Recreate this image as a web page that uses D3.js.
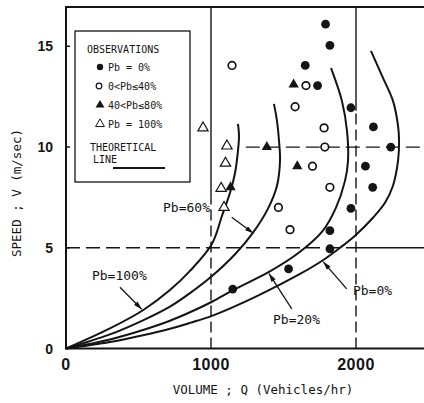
<!DOCTYPE html>
<html>
<head>
<meta charset="utf-8">
<script src="https://cdn.jsdelivr.net/npm/d3@7"></script>
<style>
  body { margin: 0; background: #fff; }
  svg { display: block; background: #fff; }
  .mono { font-family: "DejaVu Sans Mono", monospace; fill: #141414; }
  .tick-label { font-family: "Liberation Sans", Arial, sans-serif; font-weight: bold; fill: #141414; }
</style>
</head>
<body>
<svg id="chart" width="424" height="403"></svg>
<script>
(function(d3) {

  // Observations [Q (veh/hr), V (m/sec)]
  var obsPb0 = [[1790,16.1],[1820,15.05],[1650,14.05],[1735,13.05],[1965,11.95],[2120,11.0],
                [2240,10.0],[2065,9.05],[2115,8.0],[1965,6.95],[1820,5.85],[1820,4.95],
                [1535,3.95],[1150,2.95]];
  var obsPb0to40 = [[1145,14.05],[1655,13.05],[1580,12.0],[1780,10.95],[1785,10.0],[1700,9.05],
                    [1820,8.0],[1465,7.0],[1545,5.9]];
  var obsPb40to80 = [[1570,13.1],[1385,10.0],[1595,9.05],[1135,8.0]];
  var obsPb100 = [[945,10.95],[1110,10.05],[1100,9.2],[1070,7.95],[1090,7.0]];

  // Theoretical lines
  var linePb0 = [[0,0],[303,0.32],[531,0.66],[717,0.98],[855,1.27],[1007,1.62],[1317,2.6],
                 [1614,3.7],[1772,4.38],[1890,5.0],[1993,5.6],[2117,6.49],[2200,7.23],
                 [2255,8.08],[2290,9.32],[2297,10.31],[2290,11.05],[2255,12.29],[2186,13.43],
                 [2103,14.77]];
  var linePb20 = [[0,0],[303,0.45],[531,0.92],[717,1.38],[855,1.8],[1007,2.32],[1152,2.9],
                  [1400,3.8],[1614,4.8],[1772,5.85],[1862,6.99],[1924,8.32],[1945,9.32],
                  [1938,10.8],[1903,12.29],[1828,13.92]];
  var linePb60 = [[0,0],[303,0.7],[531,1.4],[717,2.08],[855,2.75],[1007,3.6],[1166,4.68],
                  [1290,5.75],[1393,6.94],[1455,8.08],[1476,9.32],[1469,10.31],[1455,11.3],
                  [1434,12.14]];
  var linePb100 = [[0,0],[303,1.0],[531,1.9],[717,2.9],[855,3.85],[1007,5.2],[1076,6.59],
                   [1131,7.73],[1166,8.72],[1186,9.81],[1193,10.55],[1186,11.15]];

  var xTicks = [0, 1000, 2000];
  var yTicks = [0, 5, 10, 15];

  var svg = d3.select("#chart");

  var x = d3.scaleLinear()
    .domain([0, 2500])
    .range([66, 428.5]);

  var y = d3.scaleLinear()
    .domain([0, 16.95])
    .range([348.5, 7]);

  var ink = "#141414";

  // Arrow head for the line labels
  svg.append("defs").append("marker")
    .attr("id", "arrow")
    .attr("viewBox", "0 0 10 6")
    .attr("refX", 10)
    .attr("refY", 3)
    .attr("markerWidth", 9)
    .attr("markerHeight", 5)
    .attr("markerUnits", "userSpaceOnUse")
    .attr("orient", "auto")
    .append("path")
    .attr("d", "M0,0L10,3L0,6Z")
    .attr("fill", ink);

  //** Grid lines **//

  // [value, from, to, dashed]
  var vGrid = [[1000, 0, 7.5, true], [1000, 7.5, 16.95, false],
               [2000, 0, 11.8, true], [2000, 11.8, 16.95, false]];
  var hGrid = [[5, 0, 2000, true], [5, 2000, 2500, false],
               [10, 1240, 2500, true]];

  svg.selectAll(".vgrid")
    .data(vGrid)
    .enter().append("line")
    .attr("class", "vgrid")
    .attr("x1", function(d){ return x(d[0]); })
    .attr("x2", function(d){ return x(d[0]); })
    .attr("y1", function(d){ return y(d[1]); })
    .attr("y2", function(d){ return y(d[2]); })
    .attr("stroke", ink)
    .attr("stroke-width", 1.4)
    .attr("stroke-dasharray", function(d){ return d[3] ? "11,5" : null; });

  svg.selectAll(".hgrid")
    .data(hGrid)
    .enter().append("line")
    .attr("class", "hgrid")
    .attr("x1", function(d){ return x(d[1]); })
    .attr("x2", function(d){ return x(d[2]); })
    .attr("y1", function(d){ return y(d[0]); })
    .attr("y2", function(d){ return y(d[0]); })
    .attr("stroke", ink)
    .attr("stroke-width", 1.3)
    .attr("stroke-dasharray", function(d){ return d[3] ? "14,6" : null; });

  //** Frame **//

  var frame = d3.path();
  frame.moveTo(424, y(16.95));
  frame.lineTo(x(0), y(16.95));
  frame.lineTo(x(0), y(0));
  frame.lineTo(424, y(0));
  svg.append("path")
    .attr("d", frame.toString())
    .attr("fill", "none")
    .attr("stroke", ink)
    .attr("stroke-width", 2);

  // small inward ticks on the speed axis
  svg.selectAll(".ytick")
    .data(yTicks.slice(1))
    .enter().append("line")
    .attr("x1", x(0))
    .attr("x2", x(0) + 4)
    .attr("y1", function(d){ return y(d); })
    .attr("y2", function(d){ return y(d); })
    .attr("stroke", ink)
    .attr("stroke-width", 1.5);

  //** Tick labels **//

  svg.selectAll(".xlab")
    .data(xTicks)
    .enter().append("text")
    .attr("class", "tick-label")
    .attr("x", function(d){ return x(d); })
    .attr("y", 370)
    .attr("text-anchor", "middle")
    .style("font-size", "16px")
    .style("letter-spacing", "0.5px")
    .text(function(d){ return d; });

  svg.selectAll(".ylab")
    .data(yTicks)
    .enter().append("text")
    .attr("class", "tick-label")
    .attr("x", 53)
    .attr("y", function(d){ return y(d) + 5; })
    .attr("text-anchor", "end")
    .style("font-size", "14px")
    .text(function(d){ return d; });

  //** Axis titles **//

  svg.append("text")
    .attr("class", "mono")
    .attr("x", 263)
    .attr("y", 394)
    .attr("text-anchor", "middle")
    .style("font-size", "12.5px")
    .text("VOLUME ; Q (Vehicles/hr)");

  svg.append("text")
    .attr("class", "mono")
    .attr("transform", "translate(21,193) rotate(-90)")
    .attr("text-anchor", "middle")
    .style("font-size", "12.5px")
    .text("SPEED ; V (m/sec)");

  //** Theoretical lines **//

  var curve = d3.line()
    .x(function(d){ return x(d[0]); })
    .y(function(d){ return y(d[1]); })
    .curve(d3.curveCatmullRom.alpha(0.5));

  svg.selectAll(".theory")
    .data([linePb0, linePb20, linePb60, linePb100])
    .enter().append("path")
    .attr("class", "theory")
    .attr("d", curve)
    .attr("fill", "none")
    .attr("stroke", ink)
    .attr("stroke-width", 2);

  //** Line labels with arrows **//

  var notes = [
    { text: "Pb=0%",   at: [1979, 2.68], from: [1936, 2.96], to: [1774, 4.3] },
    { text: "Pb=20%",  at: [1428, 1.24], from: [1557, 1.97], to: [1400, 3.72] },
    { text: "Pb=60%",  at: [669, 6.79],  from: [1143, 6.51], to: [1292, 5.72] },
    { text: "Pb=100%", at: [179, 3.42],  from: [372, 3.04],  to: [522, 1.95] }
  ];

  svg.selectAll(".note-arrow")
    .data(notes)
    .enter().append("line")
    .attr("x1", function(d){ return x(d.from[0]); })
    .attr("y1", function(d){ return y(d.from[1]); })
    .attr("x2", function(d){ return x(d.to[0]); })
    .attr("y2", function(d){ return y(d.to[1]); })
    .attr("stroke", ink)
    .attr("stroke-width", 1.3)
    .attr("marker-end", "url(#arrow)");

  svg.selectAll(".note")
    .data(notes)
    .enter().append("text")
    .attr("class", "mono")
    .attr("x", function(d){ return x(d.at[0]); })
    .attr("y", function(d){ return y(d.at[1]); })
    .style("font-size", "13px")
    .text(function(d){ return d.text; });

  //** Observations **//

  var tri = d3.symbol().type(d3.symbolTriangle).size(46);

  svg.selectAll(".pb0")
    .data(obsPb0)
    .enter().append("circle")
    .attr("cx", function(d){ return x(d[0]); })
    .attr("cy", function(d){ return y(d[1]); })
    .attr("r", 4.4)
    .attr("fill", ink);

  svg.selectAll(".pb40")
    .data(obsPb0to40)
    .enter().append("circle")
    .attr("cx", function(d){ return x(d[0]); })
    .attr("cy", function(d){ return y(d[1]); })
    .attr("r", 3.8)
    .attr("fill", "#fff")
    .attr("stroke", ink)
    .attr("stroke-width", 1.7);

  svg.selectAll(".pb80")
    .data(obsPb40to80)
    .enter().append("path")
    .attr("d", tri)
    .attr("transform", function(d){ return "translate(" + x(d[0]) + "," + y(d[1]) + ")"; })
    .attr("fill", ink);

  svg.selectAll(".pb100")
    .data(obsPb100)
    .enter().append("path")
    .attr("d", tri)
    .attr("transform", function(d){ return "translate(" + x(d[0]) + "," + y(d[1]) + ")"; })
    .attr("fill", "#fff")
    .attr("stroke", ink)
    .attr("stroke-width", 1.2);

  //** Legend **//

  var legend = svg.append("g");

  legend.append("rect")
    .attr("x", 75)
    .attr("y", 31)
    .attr("width", 115)
    .attr("height", 151)
    .attr("fill", "#fff")
    .attr("stroke", ink)
    .attr("stroke-width", 1.3);

  legend.append("text")
    .attr("class", "mono")
    .attr("x", 87)
    .attr("y", 53)
    .style("font-size", "10px")
    .text("OBSERVATIONS");

  var legendRows = [
    { label: "Pb = 0%",    kind: "dot",    y: 67 },
    { label: "0<Pb≤40%",   kind: "ring",   y: 86 },
    { label: "40<Pb≤80%",  kind: "solidTri", y: 105 },
    { label: "Pb = 100%",  kind: "openTri",  y: 124 }
  ];

  var smallTri = d3.symbol().type(d3.symbolTriangle).size(34);

  legendRows.forEach(function(r) {
    if (r.kind == "dot") {
      legend.append("circle").attr("cx", 100).attr("cy", r.y).attr("r", 3.2).attr("fill", ink);
    } else if (r.kind == "ring") {
      legend.append("circle").attr("cx", 99).attr("cy", r.y).attr("r", 2.8)
        .attr("fill", "#fff").attr("stroke", ink).attr("stroke-width", 1.2);
    } else {
      legend.append("path").attr("d", smallTri)
        .attr("transform", "translate(100," + r.y + ")")
        .attr("fill", r.kind == "solidTri" ? ink : "#fff")
        .attr("stroke", r.kind == "solidTri" ? null : ink)
        .attr("stroke-width", 1);
    }
    legend.append("text")
      .attr("class", "mono")
      .attr("x", 108)
      .attr("y", r.y + 3.5)
      .style("font-size", "10px")
      .text(r.label);
  });

  legend.append("text")
    .attr("class", "mono")
    .attr("x", 90)
    .attr("y", 151)
    .style("font-size", "10px")
    .text("THEORETICAL");

  legend.append("text")
    .attr("class", "mono")
    .attr("x", 93)
    .attr("y", 163)
    .style("font-size", "10px")
    .text("LINE");

  legend.append("line")
    .attr("x1", 113)
    .attr("x2", 165)
    .attr("y1", 168)
    .attr("y2", 168)
    .attr("stroke", ink)
    .attr("stroke-width", 2);

})(d3);
</script>
</body>
</html>
